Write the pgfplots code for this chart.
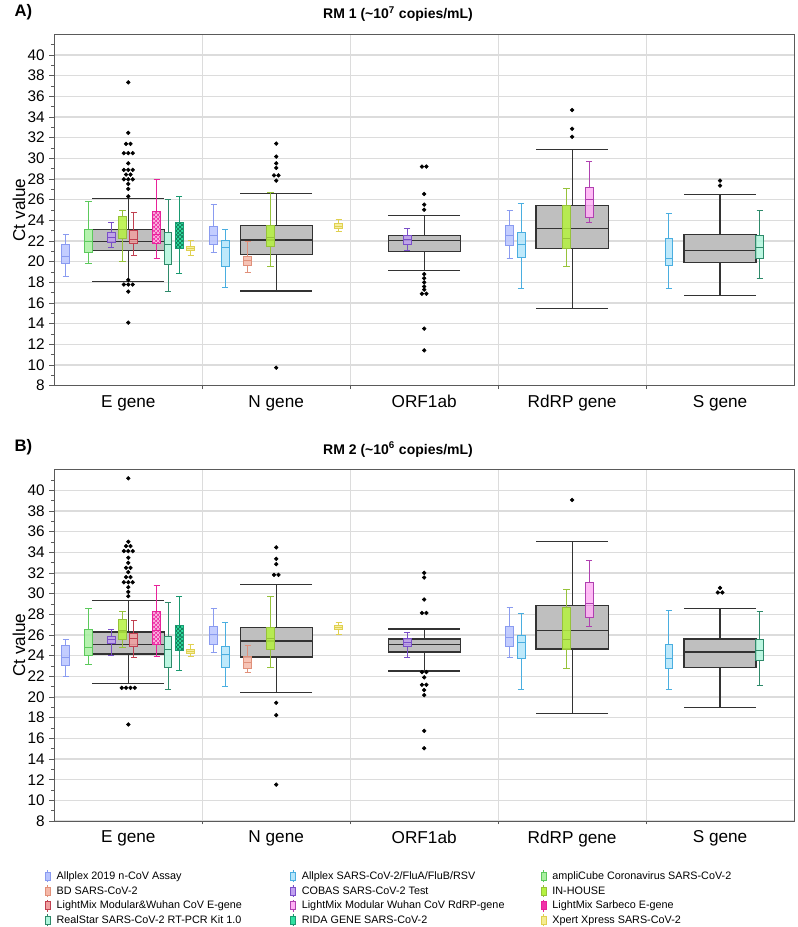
\documentclass[border=0pt]{standalone}
\usepackage{pgfplots}
\pgfplotsset{compat=1.18}
\usepgfplotslibrary{statistics}
\usetikzlibrary{patterns}
\usepackage{fontspec}
\setmainfont{Liberation Sans}

\definecolor{dA}{HTML}{8A9BF0}\definecolor{fA}{HTML}{B8C4FF}
\definecolor{dB}{HTML}{4AAEE0}\definecolor{fB}{HTML}{B3E5FA}
\definecolor{dC}{HTML}{5CC95C}\definecolor{fC}{HTML}{A8F0A0}
\definecolor{dD}{HTML}{E0907A}\definecolor{fD}{HTML}{F5B8A8}
\definecolor{dE}{HTML}{7A4FC8}\definecolor{fE}{HTML}{C0A0F0}
\definecolor{dF}{HTML}{96C23A}\definecolor{fF}{HTML}{B5F23F}
\definecolor{dG}{HTML}{C04050}\definecolor{fG}{HTML}{F0A0A0}
\definecolor{dH}{HTML}{B040B0}\definecolor{fH}{HTML}{FFB0F5}
\definecolor{dI}{HTML}{E8229A}\definecolor{fI}{HTML}{F033A8}
\definecolor{dJ}{HTML}{2E8A6A}\definecolor{fJ}{HTML}{B0F5DC}
\definecolor{dK}{HTML}{1A9970}\definecolor{fK}{HTML}{2EE0A0}
\definecolor{dL}{HTML}{E0D050}\definecolor{fL}{HTML}{F5EC90}
\definecolor{gfill}{HTML}{BFBFBF}
\definecolor{gridc}{HTML}{DCDCDC}
\definecolor{axc}{HTML}{5A5A5A}

\pgfplotsset{
  cbox/.style 2 args={draw=#1, fill=#2, fill opacity=0.85, line width=0.75pt, forget plot,
    boxplot/draw direction=y, boxplot/box extend=0.054, boxplot/whisker extend=0.042},
  gbox/.style={draw=black!80, fill=gfill, line width=0.9pt, forget plot,
    boxplot/draw direction=y, boxplot/box extend=0.487, boxplot/whisker extend=0.487},
  outl/.style={only marks, mark=*, mark size=1.4pt, black, forget plot},
  sA/.style={cbox={dA}{fA}}, sB/.style={cbox={dB}{fB}}, sC/.style={cbox={dC}{fC}},
  sD/.style={cbox={dD}{fD}}, sE/.style={cbox={dE}{fE}}, sF/.style={cbox={dF}{fF}},
  sG/.style={cbox={dG}{fG}}, sH/.style={cbox={dH}{fH}},
  sI/.style={cbox={dI}{fI}, fill opacity=1, boxplot/every box/.append style={postaction={pattern=crosshatch, pattern color=white!75!fI}}},
  sJ/.style={cbox={dJ}{fJ}},
  sK/.style={cbox={dK}{fK}, fill opacity=1, boxplot/every box/.append style={postaction={pattern=crosshatch, pattern color=dK!70!black}}},
  sL/.style={cbox={dL}{fL}},
  panel/.style={
    scale only axis, width=554.8pt, height=263.55pt,
    xmin=-0.5, xmax=4.5, ymin=8, ymax=42,
    xtick={0,1,2,3,4},
    xticklabels={E gene, N gene, ORF1ab, RdRP gene, S gene},
    minor xtick={0.5,1.5,2.5,3.5},
    ytick={8,10,...,40}, minor ytick={9,11,...,41},
    xtick pos=bottom, ytick pos=left,
    tick align=outside,
    major tick length=3.75pt, minor tick length=2.5pt,
    major x tick style={draw=none},
    every tick/.style={color=axc, line width=0.6pt},
    ymajorgrids, xminorgrids,
    major y grid style={color=gridc, line width=1pt},
    minor x grid style={color=gridc, line width=0.7pt},
    axis line style={color=axc, line width=0.75pt},
    tick label style={font=\fontsize{11.5}{13}\selectfont},
    xticklabel style={font=\fontsize{12.9}{14}\selectfont},
    /pgf/number format/assume math mode=true,
    ylabel={Ct value},
    ylabel style={font=\fontsize{12.9}{14}\selectfont, at={(axis description cs:-0.0329,0.5)}, anchor=south},
    title style={font=\fontsize{10.5}{12}\selectfont\bfseries, at={(axis description cs:0.4647,1)}, anchor=base, yshift=5.5pt},
    clip mode=individual,
  }
}

\begin{document}
\begin{tikzpicture}
\path[use as bounding box] (0,0) rectangle (597.75pt,-695.25pt);

% ---------------- Panel A ----------------
\begin{axis}[panel, at={(40.73pt,-289.28pt)}, anchor=south west,
  title={RM 1 (\textasciitilde10\textsuperscript{7} copies/mL)}]
\node[anchor=base west, font=\fontsize{12.5}{14}\selectfont\bfseries] at (axis description cs:-0.0599,1.052) {A)};
% overall boxes
\addplot[gbox, boxplot prepared={draw position=0, lower whisker=18.08, lower quartile=21.09, median=21.96, upper quartile=23.12, upper whisker=26.13}] coordinates {};
\addplot[gbox, boxplot prepared={draw position=1, lower whisker=17.17, lower quartile=20.70, median=22.09, upper quartile=23.48, upper whisker=26.58}] coordinates {};
\addplot[gbox, boxplot prepared={draw position=2, lower whisker=19.11, lower quartile=21.02, median=22.02, upper quartile=22.51, upper whisker=24.45}] coordinates {};
\addplot[gbox, boxplot prepared={draw position=3, lower whisker=15.49, lower quartile=21.31, median=23.19, upper quartile=25.45, upper whisker=30.88}] coordinates {};
\addplot[gbox, boxplot prepared={draw position=4, lower whisker=16.72, lower quartile=19.95, median=21.09, upper quartile=22.61, upper whisker=26.52}] coordinates {};
% E gene
\addplot[sA, boxplot prepared={draw position=-0.4219, lower whisker=18.6, lower quartile=19.86, median=20.47, upper quartile=21.64, upper whisker=22.67}] coordinates {};
\addplot[sC, boxplot prepared={draw position=-0.2685, lower whisker=19.79, lower quartile=20.86, median=21.96, upper quartile=23.09, upper whisker=25.84}] coordinates {};
\addplot[sE, boxplot prepared={draw position=-0.1151, lower whisker=21.38, lower quartile=21.83, median=22.35, upper quartile=22.8, upper whisker=23.8}] coordinates {};
\addplot[sF, boxplot prepared={draw position=-0.0384, lower whisker=20.05, lower quartile=22.22, median=23.16, upper quartile=24.35, upper whisker=25.0}] coordinates {};
\addplot[sG, boxplot prepared={draw position=0.0384, lower whisker=20.63, lower quartile=21.77, median=22.19, upper quartile=23.06, upper whisker=24.8}] coordinates {};
\addplot[sI, boxplot prepared={draw position=0.1918, lower whisker=20.34, lower quartile=21.73, median=22.6, upper quartile=24.87, upper whisker=27.94}] coordinates {};
\addplot[sJ, boxplot prepared={draw position=0.2685, lower whisker=17.08, lower quartile=19.7, median=21.64, upper quartile=22.8, upper whisker=26.0}] coordinates {};
\addplot[sK, boxplot prepared={draw position=0.3452, lower whisker=18.9, lower quartile=21.3, median=22.5, upper quartile=23.77, upper whisker=26.29}] coordinates {};
\addplot[sL, boxplot prepared={draw position=0.4219, lower whisker=20.6, lower quartile=21.05, median=21.25, upper quartile=21.44, upper whisker=22.06}] coordinates {};
% N gene
\addplot[sA, boxplot prepared={draw position=0.5781, lower whisker=20.86, lower quartile=21.67, median=22.54, upper quartile=23.41, upper whisker=25.55}] coordinates {};
\addplot[sB, boxplot prepared={draw position=0.6548, lower whisker=17.47, lower quartile=19.57, median=21.38, upper quartile=22.06, upper whisker=23.12}] coordinates {};
\addplot[sD, boxplot prepared={draw position=0.8082, lower whisker=18.95, lower quartile=19.63, median=20.15, upper quartile=20.54, upper whisker=21.93}] coordinates {};
\addplot[sF, boxplot prepared={draw position=0.9616, lower whisker=19.57, lower quartile=21.44, median=22.35, upper quartile=23.54, upper whisker=26.65}] coordinates {};
\addplot[sL, boxplot prepared={draw position=1.4219, lower whisker=22.93, lower quartile=23.19, median=23.45, upper quartile=23.67, upper whisker=24.1}] coordinates {};
% ORF1ab
\addplot[sE, boxplot prepared={draw position=1.8849, lower whisker=21.05, lower quartile=21.7, median=22.12, upper quartile=22.51, upper whisker=23.25}] coordinates {};
% RdRP gene
\addplot[sA, boxplot prepared={draw position=2.5781, lower whisker=20.34, lower quartile=21.54, median=22.51, upper quartile=23.48, upper whisker=24.93}] coordinates {};
\addplot[sB, boxplot prepared={draw position=2.6548, lower whisker=17.4, lower quartile=20.41, median=21.64, upper quartile=22.8, upper whisker=25.61}] coordinates {};
\addplot[sF, boxplot prepared={draw position=2.9616, lower whisker=19.57, lower quartile=21.31, median=22.22, upper quartile=25.48, upper whisker=27.1}] coordinates {};
\addplot[sH, boxplot prepared={draw position=3.1151, lower whisker=23.8, lower quartile=24.32, median=25.97, upper quartile=27.16, upper whisker=29.69}] coordinates {};
% S gene
\addplot[sB, boxplot prepared={draw position=3.6548, lower whisker=17.4, lower quartile=19.63, median=20.34, upper quartile=22.22, upper whisker=24.64}] coordinates {};
\addplot[sJ, boxplot prepared={draw position=4.2685, lower whisker=18.37, lower quartile=20.28, median=21.35, upper quartile=22.51, upper whisker=24.93}] coordinates {};
% outliers
\addplot[outl] coordinates {(0,37.35) (0,32.47) (-0.015,31.4) (0.015,31.4) (-0.03,30.5) (0,30.5) (0.03,30.5) (0,29.52) (-0.03,28.88) (0,28.88) (0.03,28.88) (-0.015,28.43) (0.015,28.43) (-0.03,27.97) (0,27.97) (0.03,27.97) (0,27.52) (0,27.04) (0,26.32) (0,18.24) (-0.03,17.79) (0,17.79) (0.03,17.79) (0,17.11) (0,14.1)};
\addplot[outl] coordinates {(1,31.43) (1,30.17) (1,29.52) (1,29.07) (0.985,28.35) (1.015,28.35) (1,27.84) (1,9.74)};
\addplot[outl] coordinates {(1.985,29.2) (2.015,29.2) (2,26.55) (2,25.52) (2,25.03) (2,18.8) (2,18.4) (2,18.0) (2,17.6) (2,17.3) (1.985,16.9) (2.015,16.9) (2,13.52) (2,11.42)};
\addplot[outl] coordinates {(3,34.67) (3,32.86) (3,32.08)};
\addplot[outl] coordinates {(4,27.84) (4,27.36)};
\end{axis}

% ---------------- Panel B ----------------
\begin{axis}[panel, at={(40.73pt,-615.75pt)}, anchor=south west,
  title={RM 2 (\textasciitilde10\textsuperscript{6} copies/mL)},
  legend columns=3,
  legend cell align=left,
  legend style={at={(axis description cs:-0.0132,-0.1363)}, anchor=north west, draw=none, fill=none,
    font=\fontsize{8.1}{9}\selectfont, inner sep=0pt, row sep=0pt,
    nodes={inner xsep=4.5pt, inner ysep=0.9pt, text height=6.8pt, text depth=2.35pt},
    /tikz/column 2/.append style={column sep=31.5pt},
    /tikz/column 4/.append style={column sep=22.5pt}},
  legend image code/.code={\draw[#1, line width=0.5pt] (2.5pt,-4.5pt) -- (2.5pt,4.5pt); \fill[#1] (0.5pt,-3pt) rectangle (4.5pt,3pt);},
  ]
\node[anchor=base west, font=\fontsize{12.5}{14}\selectfont\bfseries] at (axis description cs:-0.0599,1.051) {B)};
\addplot[gbox, boxplot prepared={draw position=0, lower whisker=21.31, lower quartile=24.16, median=25.1, upper quartile=26.29, upper whisker=29.3}] coordinates {};
\addplot[gbox, boxplot prepared={draw position=1, lower whisker=20.41, lower quartile=23.87, median=25.42, upper quartile=26.74, upper whisker=30.88}] coordinates {};
\addplot[gbox, boxplot prepared={draw position=2, lower whisker=22.51, lower quartile=24.35, median=25.1, upper quartile=25.61, upper whisker=26.58}] coordinates {};
\addplot[gbox, boxplot prepared={draw position=3, lower whisker=18.37, lower quartile=24.64, median=26.42, upper quartile=28.85, upper whisker=35.02}] coordinates {};
\addplot[gbox, boxplot prepared={draw position=4, lower whisker=19.02, lower quartile=22.83, median=24.35, upper quartile=25.61, upper whisker=28.56}] coordinates {};
% E gene
\addplot[sA, boxplot prepared={draw position=-0.4219, lower whisker=21.96, lower quartile=23.06, median=23.83, upper quartile=25.0, upper whisker=25.52}] coordinates {};
\addplot[sC, boxplot prepared={draw position=-0.2685, lower whisker=23.19, lower quartile=24.06, median=24.74, upper quartile=26.52, upper whisker=28.56}] coordinates {};
\addplot[sE, boxplot prepared={draw position=-0.1151, lower whisker=24.06, lower quartile=25.16, median=25.52, upper quartile=25.81, upper whisker=26.52}] coordinates {};
\addplot[sF, boxplot prepared={draw position=-0.0384, lower whisker=24.8, lower quartile=25.52, median=26.42, upper quartile=27.49, upper whisker=28.23}] coordinates {};
\addplot[sG, boxplot prepared={draw position=0.0384, lower whisker=23.8, lower quartile=24.9, median=25.68, upper quartile=26.13, upper whisker=27.36}] coordinates {};
\addplot[sI, boxplot prepared={draw position=0.1918, lower whisker=23.9, lower quartile=25.06, median=26.4, upper quartile=28.23, upper whisker=30.82}] coordinates {};
\addplot[sJ, boxplot prepared={draw position=0.2685, lower whisker=20.73, lower quartile=22.86, median=24.61, upper quartile=25.81, upper whisker=29.14}] coordinates {};
\addplot[sK, boxplot prepared={draw position=0.3452, lower whisker=22.6, lower quartile=24.45, median=25.87, upper quartile=26.87, upper whisker=29.69}] coordinates {};
\addplot[sL, boxplot prepared={draw position=0.4219, lower whisker=23.87, lower quartile=24.16, median=24.42, upper quartile=24.61, upper whisker=25.06}] coordinates {};
% N gene
\addplot[sA, boxplot prepared={draw position=0.5781, lower whisker=24.35, lower quartile=25.06, median=26.03, upper quartile=26.84, upper whisker=28.56}] coordinates {};
\addplot[sB, boxplot prepared={draw position=0.6548, lower whisker=21.02, lower quartile=22.9, median=24.09, upper quartile=24.93, upper whisker=27.23}] coordinates {};
\addplot[sD, boxplot prepared={draw position=0.8082, lower whisker=22.35, lower quartile=22.8, median=23.32, upper quartile=23.9, upper whisker=25.0}] coordinates {};
\addplot[sF, boxplot prepared={draw position=0.9616, lower whisker=22.9, lower quartile=24.64, median=25.68, upper quartile=26.74, upper whisker=29.69}] coordinates {};
\addplot[sL, boxplot prepared={draw position=1.4219, lower whisker=26.03, lower quartile=26.52, median=26.74, upper quartile=26.91, upper whisker=27.23}] coordinates {};
% ORF1ab
\addplot[sE, boxplot prepared={draw position=1.8849, lower whisker=23.8, lower quartile=24.93, median=25.23, upper quartile=25.68, upper whisker=26.23}] coordinates {};
% RdRP gene
\addplot[sA, boxplot prepared={draw position=2.5781, lower whisker=23.8, lower quartile=24.9, median=25.74, upper quartile=26.84, upper whisker=28.68}] coordinates {};
\addplot[sB, boxplot prepared={draw position=2.6548, lower whisker=20.73, lower quartile=23.74, median=25.32, upper quartile=25.97, upper whisker=28.1}] coordinates {};
\addplot[sF, boxplot prepared={draw position=2.9616, lower whisker=22.8, lower quartile=24.58, median=25.61, upper quartile=28.62, upper whisker=30.43}] coordinates {};
\addplot[sH, boxplot prepared={draw position=3.1151, lower whisker=26.81, lower quartile=27.71, median=29.01, upper quartile=31.11, upper whisker=33.21}] coordinates {};
% S gene
\addplot[sB, boxplot prepared={draw position=3.6548, lower whisker=20.73, lower quartile=22.74, median=23.74, upper quartile=25.1, upper whisker=28.39}] coordinates {};
\addplot[sJ, boxplot prepared={draw position=4.2685, lower whisker=21.09, lower quartile=23.51, median=24.45, upper quartile=25.58, upper whisker=28.23}] coordinates {};
% outliers
\addplot[outl] coordinates {(0,41.16) (0,35.02) (-0.015,34.6) (0.015,34.6) (-0.03,34.12) (0,34.12) (0.03,34.12) (0,33.47) (0,32.98) (-0.015,32.5) (0.015,32.5) (0,32.08) (-0.015,31.6) (0.015,31.6) (-0.03,31.1) (0,31.1) (0.03,31.1) (0,30.62) (0,30.17) (0,29.75) (-0.044,20.89) (-0.015,20.89) (0.015,20.89) (0.044,20.89) (0,17.34)};
\addplot[outl] coordinates {(1,34.47) (1,33.37) (1,32.85) (0.985,31.82) (1.015,31.82) (1,19.44) (1,18.24) (1,11.52)};
\addplot[outl] coordinates {(2,32.01) (2,31.56) (2,29.43) (1.985,28.13) (2.015,28.13) (1.985,22.41) (2.015,22.41) (2,21.9) (1.985,21.18) (2.015,21.18) (2,20.67) (2,20.18) (2,16.72) (2,15.04)};
\addplot[outl] coordinates {(3,39.06)};
\addplot[outl] coordinates {(4,30.56) (3.985,30.11) (4.015,30.11)};
% legend
\addlegendimage{draw=dA, fill=fA}\addlegendentry{Allplex 2019 n-CoV Assay}
\addlegendimage{draw=dB, fill=fB}\addlegendentry{Allplex SARS-CoV-2/FluA/FluB/RSV}
\addlegendimage{draw=dC, fill=fC}\addlegendentry{ampliCube Coronavirus SARS-CoV-2}
\addlegendimage{draw=dD, fill=fD}\addlegendentry{BD SARS-CoV-2}
\addlegendimage{draw=dE, fill=fE}\addlegendentry{COBAS SARS-CoV-2 Test}
\addlegendimage{draw=dF, fill=fF}\addlegendentry{IN-HOUSE}
\addlegendimage{draw=dG, fill=fG}\addlegendentry{LightMix Modular\&Wuhan CoV E-gene}
\addlegendimage{draw=dH, fill=fH}\addlegendentry{LightMix Modular Wuhan CoV RdRP-gene}
\addlegendimage{draw=dI, fill=fI}\addlegendentry{LightMix Sarbeco E-gene}
\addlegendimage{draw=dJ, fill=fJ}\addlegendentry{RealStar SARS-CoV-2 RT-PCR Kit 1.0}
\addlegendimage{draw=dK, fill=fK}\addlegendentry{RIDA GENE SARS-CoV-2}
\addlegendimage{draw=dL, fill=fL}\addlegendentry{Xpert Xpress SARS-CoV-2}
\end{axis}
\end{tikzpicture}
\end{document}
